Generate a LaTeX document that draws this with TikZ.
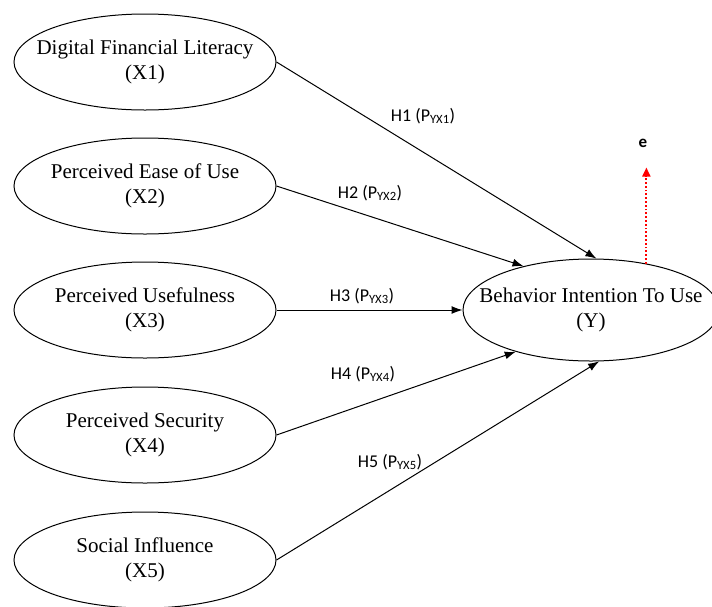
\documentclass[tikz,border=0pt]{standalone}
\usepackage{fontspec}
\setmainfont{Liberation Serif}
\newfontfamily\lblfont{Carlito}
\usetikzlibrary{shapes.geometric,arrows.meta,calc}
\newcommand\zl[1]{\makebox[0pt]{#1}}
\begin{document}
\begin{tikzpicture}[x=1pt,y=-1pt,
  construct/.style={ellipse,draw,line width=1pt,minimum width=262pt,minimum height=96pt,inner sep=0pt,align=center,font=\fontsize{21}{25}\selectfont},
  path/.style={line width=1pt,-{Latex[length=11pt,width=8pt]}},
  hlabel/.style={font=\lblfont\fontsize{18}{20}\selectfont,inner sep=0pt}]
\useasboundingbox (0,0) rectangle (712,606);
\fill[white] (0,0) rectangle (712,606);
\node[construct] (x1) at (145,62) {\zl{Digital Financial Literacy}\\\zl{(X1)}};
\node[construct] (x2) at (145,186) {\zl{Perceived Ease of Use}\\\zl{(X2)}};
\node[construct] (x3) at (145,310) {\zl{Perceived Usefulness}\\\zl{(X3)}};
\node[construct] (x4) at (145,435) {\zl{Perceived Security}\\\zl{(X4)}};
\node[construct] (x5) at (145,560) {\zl{Social Influence}\\\zl{(X5)}};
\node[construct,minimum width=256pt,minimum height=102pt] (y) at (591,310) {\zl{Behavior Intention To Use}\\\zl{(Y)}};
\draw[path] (x1.east) -- (y.84);
\draw[path] (x2.east) -- (y.147);
\draw[path] (x3.east) -- (y.180);
\draw[path] (x4.east) -- (y.209);
\draw[path] (x5.east) -- (y.279);
\node[hlabel] (h1) at (423,116) {H1 (P\textsubscript{YX1})};
\node[hlabel] (h2) at (370,193) {H2 (P\textsubscript{YX2})};
\node[hlabel] (h3) at (362,296) {H3 (P\textsubscript{YX3})};
\node[hlabel] (h4) at (363,374) {H4 (P\textsubscript{YX4})};
\node[hlabel] (h5) at (390,462) {H5 (P\textsubscript{YX5})};
\node[font=\lblfont\bfseries\fontsize{17}{20}\selectfont,inner sep=0pt] (e) at (643,143) {e};
\coordinate (etip) at ($(y.40)+(0,-96)$);
\draw[red,line width=1.8pt,dotted,-{Triangle[length=9pt,width=8pt]}] (y.40) -- (etip);
\end{tikzpicture}
\end{document}
